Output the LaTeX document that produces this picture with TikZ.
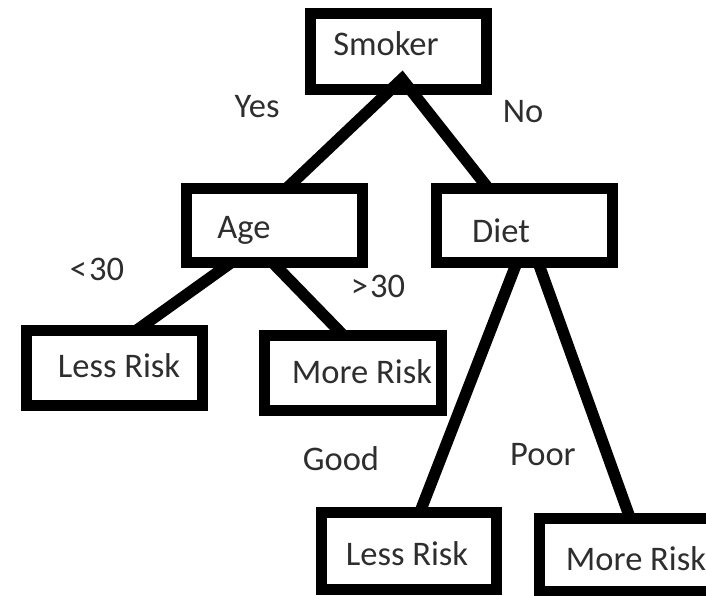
\documentclass[tikz,border=0pt]{standalone}
\usepackage{fontspec}
\setmainfont{Carlito}
\usetikzlibrary{calc}

\tikzset{
  treebox/.style={draw=black, line width=11pt, outer sep=0pt, inner sep=0pt,
                  minimum width=176pt, minimum height=75pt, fill=white},
  treetext/.style={anchor=base, inner sep=0pt, text=black!82,
                   font=\fontsize{34.5}{40}\selectfont},
  branch/.style={draw=black, line width=11.5pt},
}

\begin{document}
\begin{tikzpicture}[x=1pt, y=-1pt]
  \useasboundingbox (0,0) rectangle (706,595);
  \clip (0,0) rectangle (706,595);

  % connector end points on the box borders
  \coordinate (rootfoot) at (402,79);
  \coordinate (agetop) at (287,188);
  \coordinate (diettop) at (488,188);
  \coordinate (agefootl) at (232,262);
  \coordinate (agefootr) at (272,262);
  \coordinate (dietfootl) at (517,262);
  \coordinate (dietfootr) at (538,262);
  \coordinate (lessatop) at (137,330);
  \coordinate (moreatop) at (343,335);
  \coordinate (lessbtop) at (420,512);
  \coordinate (morebtop) at (630,518);

  % decision boxes
  \node[treebox, minimum height=76pt] (smoker) at (398,51) {};
  \node[treebox, minimum height=74pt] (age)    at (274,225) {};
  \node[treebox, minimum height=74pt] (diet)   at (524,225) {};
  \node[treebox] (lessA) at (114,367.5) {};
  \node[treebox, minimum width=177pt] (moreA) at (352.5,372.5) {};
  \node[treebox, minimum width=175pt, minimum height=77pt] (lessB) at (408.5,550.5) {};
  \node[treebox, minimum height=73pt] (moreB) at (627,554.5) {};

  % branches
  \draw[branch] (agetop) -- (rootfoot) -- (diettop);
  \draw[branch] (agefootl) -- (lessatop);
  \draw[branch] (agefootr) -- (moreatop);
  \draw[branch] (dietfootl) -- (lessbtop);
  \draw[branch] (dietfootr) -- (morebtop);

  % box texts
  \node[treetext] (tsmoker) at (386,55)  {Smoker};
  \node[treetext] (tage)    at (244,238) {Age};
  \node[treetext] (tdiet)   at (501,242) {Diet};
  \node[treetext] (tlessA)  at (119,377) {Less Risk};
  \node[treetext] (tmoreA)  at (362,383) {More Risk};
  \node[treetext] (tlessB)  at (407,565) {Less Risk};
  \node[treetext] (tmoreB)  at (636,570) {More Risk};

  % branch labels
  \node[treetext] (lyes)  at (257,117) {Yes};
  \node[treetext] (lno)   at (523,122) {No};
  \node[treetext] (llt)   at (97,280)  {<\kern2pt30};
  \node[treetext] (lgt)   at (378,297) {>\kern2pt30};
  \node[treetext] (lgood) at (341,470) {Good};
  \node[treetext] (lpoor) at (543,465) {Poor};
\end{tikzpicture}
\end{document}
